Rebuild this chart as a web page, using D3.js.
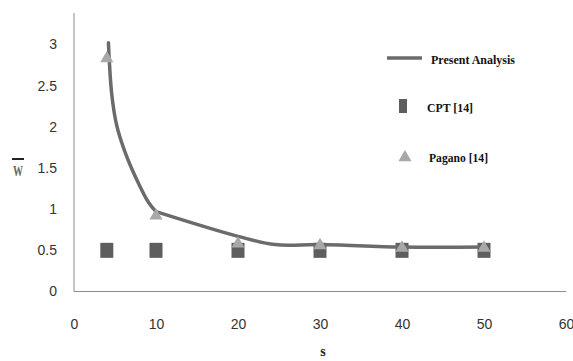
<!DOCTYPE html>
<html>
<head>
<meta charset="utf-8">
<script src="https://cdn.jsdelivr.net/npm/d3@7"></script>
<style>
  body { margin: 0; background: #fff; }
  svg { display: block; }
</style>
</head>
<body>
<svg id="chart"></svg>
<script>
const width = 573, height = 361;

// Present Analysis: steep branch (s <= 10) and flat branch (s >= 10)
const steepS = [4.2, 4.6, 5.2, 6.2, 7.6, 9.1, 10];
const steepW = [3.02, 2.4, 2.02, 1.7, 1.37, 1.08, 0.97];
const flatS = [10, 20, 24.5, 30, 40, 50];
const flatW = [0.97, 0.67, 0.57, 0.57, 0.54, 0.54];

// CPT [14]
const cptS = [4, 10, 20, 30, 40, 50];
const cptW = [0.5, 0.5, 0.5, 0.5, 0.5, 0.5];

// Pagano [14]
const paganoS = [4, 10, 20, 30, 40, 50];
const paganoW = [2.83, 0.92, 0.58, 0.56, 0.53, 0.53];

const xTicks = [0, 10, 20, 30, 40, 50, 60];
const yTicks = [0, 0.5, 1, 1.5, 2, 2.5, 3];

const svg = d3.select('#chart')
    .attr('width', width)
    .attr('height', height);

const x = d3.scaleLinear().domain([0, 60]).range([74, 566]);
const y = d3.scaleLinear().domain([0, 3]).range([291.5, 44.5]);

const lineColor = '#6b6b6b';
const squareColor = '#5e5e5e';
const triColor = '#a8a8a8';

// axes lines
svg.append('line')
  .attr('x1', x(0)).attr('x2', x(0))
  .attr('y1', 13).attr('y2', y(0))
  .attr('stroke', '#8c8c8c').attr('stroke-width', 1);
svg.append('line')
  .attr('x1', x(0)).attr('x2', x(60))
  .attr('y1', y(0)).attr('y2', y(0))
  .attr('stroke', '#8c8c8c').attr('stroke-width', 1);

const yAxis = d3.axisLeft(y).tickValues(yTicks).tickSize(0).tickPadding(17)
  .tickFormat(d3.format('~g'));
const yg = svg.append('g').attr('transform', `translate(${x(0)},0)`).call(yAxis);
yg.select('.domain').remove();
yg.selectAll('text')
  .attr('font-family', 'Liberation Sans, Arial, sans-serif')
  .attr('font-size', 14).attr('fill', '#333');

const xAxis = d3.axisBottom(x).tickValues(xTicks).tickSize(0).tickPadding(28)
  .tickFormat(d3.format('~g'));
const xg = svg.append('g').attr('transform', `translate(0,${y(0)})`).call(xAxis);
xg.select('.domain').remove();
xg.selectAll('text')
  .attr('font-family', 'Liberation Sans, Arial, sans-serif')
  .attr('font-size', 14).attr('fill', '#333');

// axis titles
svg.append('text')
  .attr('x', 323).attr('y', 356)
  .attr('text-anchor', 'middle')
  .attr('font-family', 'Liberation Serif, Times New Roman, serif')
  .attr('font-weight', 'bold').attr('font-size', 14)
  .attr('fill', '#222')
  .text('s');

svg.append('text')
  .attr('x', 18).attr('y', 176)
  .attr('text-anchor', 'middle')
  .attr('font-family', 'Liberation Serif, Times New Roman, serif')
  .attr('font-weight', 'bold').attr('font-size', 15)
  .attr('fill', '#666')
  .attr('textLength', 10).attr('lengthAdjust', 'spacingAndGlyphs')
  .text('W');
svg.append('line')
  .attr('x1', 12).attr('x2', 24)
  .attr('y1', 159).attr('y2', 159)
  .attr('stroke', '#222').attr('stroke-width', 2);

// CPT squares
svg.append('g').selectAll('rect')
  .data(cptS.map((s, i) => [s, cptW[i]]))
  .enter().append('rect')
  .attr('x', d => x(d[0]) - 6.5)
  .attr('y', d => y(d[1]) - 7.5)
  .attr('width', 13).attr('height', 15)
  .attr('fill', squareColor);

// Present Analysis line
const line = d3.line()
  .x(d => x(d[0]))
  .y(d => y(d[1]))
  .curve(d3.curveCatmullRom.alpha(0.5));
const steep = steepS.map((s, i) => [s, steepW[i]]);
const flat = flatS.map((s, i) => [s, flatW[i]]);
svg.append('path')
  .attr('d', line(steep) + line(flat))
  .attr('fill', 'none')
  .attr('stroke', lineColor)
  .attr('stroke-width', 3.5)
  .attr('stroke-linecap', 'round')
  .attr('stroke-linejoin', 'round');

// Pagano triangles
const tri = d3.symbol().type(d3.symbolTriangle).size(75);
svg.append('g').selectAll('path')
  .data(paganoS.map((s, i) => [s, paganoW[i]]))
  .enter().append('path')
  .attr('d', tri)
  .attr('transform', d => `translate(${x(d[0])},${y(d[1])})`)
  .attr('fill', triColor);

// legend
const legend = svg.append('g')
  .attr('font-family', 'Liberation Serif, Times New Roman, serif')
  .attr('font-weight', 'bold').attr('font-size', 12)
  .attr('fill', '#111');

legend.append('line')
  .attr('x1', 387).attr('x2', 422)
  .attr('y1', 58).attr('y2', 58)
  .attr('stroke', lineColor).attr('stroke-width', 3.5);
legend.append('text')
  .attr('x', 431).attr('y', 64)
  .attr('textLength', 84).attr('lengthAdjust', 'spacingAndGlyphs')
  .text('Present Analysis');

legend.append('rect')
  .attr('x', 399).attr('y', 99)
  .attr('width', 8).attr('height', 14)
  .attr('fill', squareColor);
legend.append('text')
  .attr('x', 427).attr('y', 112)
  .attr('textLength', 46).attr('lengthAdjust', 'spacingAndGlyphs')
  .text('CPT [14]');

legend.append('path')
  .attr('d', tri)
  .attr('transform', 'translate(405,157.5)')
  .attr('fill', triColor);
legend.append('text')
  .attr('x', 429).attr('y', 162)
  .attr('textLength', 59).attr('lengthAdjust', 'spacingAndGlyphs')
  .text('Pagano [14]');
</script>
</body>
</html>
